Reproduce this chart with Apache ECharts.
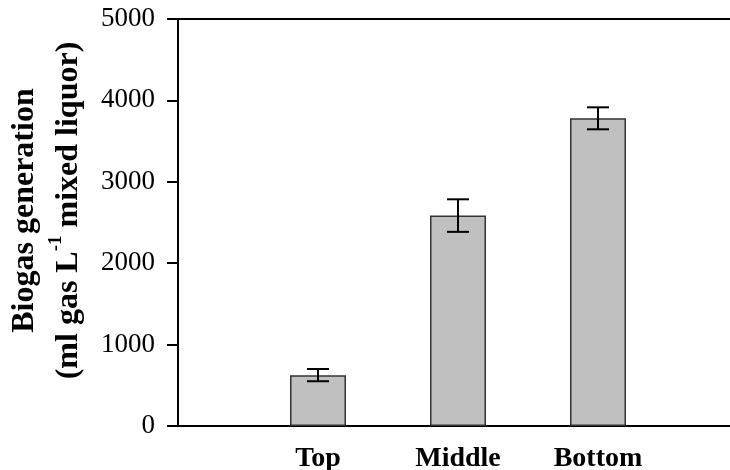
<!DOCTYPE html>
<html>
<head>
<meta charset="utf-8">
<script src="https://cdn.jsdelivr.net/npm/echarts@6/dist/echarts.min.js"></script>
<style>
  html, body { margin: 0; padding: 0; background: #fff; }
  #chart { width: 730px; height: 470px; }
</style>
</head>
<body>
<div id="chart"></div>
<script>
// biogas generation per sludge layer (mean and +/- error)
const categories = ['Top', 'Middle', 'Bottom'];
const biogas = [625, 2585, 3780];
const biogasErr = [75, 200, 135];
const yTicks = [0, 1000, 2000, 3000, 4000, 5000];

// one empty slot on each side so the bars sit on ticks 1..3
const axisData = [''].concat(categories, ['']);
const barData = ['-'].concat(biogas, ['-']);
const errData = categories.map((c, i) => [i + 1, biogas[i] - biogasErr[i], biogas[i] + biogasErr[i]]);

const serif = '"Liberation Serif", "Times New Roman", serif';
let myChart = echarts.init(document.getElementById('chart'));

let option = {
  animation: false,
  // plot runs a little past the right edge, as in the cropped original
  grid: { left: 178, right: -8, top: 19, bottom: 44, outerBoundsMode: 'none', containLabel: false },
  xAxis: [
    {
      type: 'category',
      data: axisData,
      boundaryGap: false,
      axisLine: { lineStyle: { color: '#000', width: 2 } },
      axisTick: { show: false },
      axisLabel: {
        interval: 0, margin: 19,
        fontFamily: serif, fontSize: 28, fontWeight: 'bold', color: '#000'
      }
    },
    {
      type: 'category',
      data: axisData,
      boundaryGap: false,
      position: 'top',
      axisLine: { lineStyle: { color: '#000', width: 2 } },
      axisTick: { show: false },
      axisLabel: { show: false }
    }
  ],
  yAxis: {
    type: 'value',
    min: yTicks[0],
    max: yTicks[yTicks.length - 1],
    interval: 1000,
    axisLine: { show: true, lineStyle: { color: '#000', width: 2 } },
    axisTick: { show: true, length: 11, lineStyle: { color: '#000', width: 2 } },
    splitLine: { show: false },
    axisLabel: {
      margin: 23, fontFamily: serif, fontSize: 27, color: '#000',
      formatter: v => String(v)
    },
    name: '{t|Biogas generation}\n{t|(ml gas L}{s|-1}{t| mixed liquor)}',
    nameLocation: 'middle',
    nameRotate: 90,
    nameGap: 87,
    nameTextStyle: {
      fontFamily: serif, fontWeight: 'bold', color: '#000',
      padding: [0, 0, 0, 24],
      rich: {
        t: { fontFamily: serif, fontSize: 32, fontWeight: 'bold', color: '#000', lineHeight: 44 },
        s: { fontFamily: serif, fontSize: 19, fontWeight: 'bold', color: '#000', verticalAlign: 'top', lineHeight: 44 }
      }
    }
  },
  series: [
    {
      type: 'bar',
      data: barData,
      barWidth: 56,
      itemStyle: { color: '#c0c0c0', borderColor: '#333', borderWidth: 1.5 }
    },
    {
      type: 'custom',
      data: errData,
      z: 5,
      renderItem: function (params, api) {
        let x = api.value(0);
        let lo = api.coord([x, api.value(1)]);
        let hi = api.coord([x, api.value(2)]);
        let half = 11;
        let st = { stroke: '#000', lineWidth: 2 };
        return {
          type: 'group',
          children: [
            { type: 'line', shape: { x1: lo[0], y1: lo[1], x2: hi[0], y2: hi[1] }, style: st },
            { type: 'line', shape: { x1: lo[0] - half, y1: lo[1], x2: lo[0] + half, y2: lo[1] }, style: st },
            { type: 'line', shape: { x1: hi[0] - half, y1: hi[1], x2: hi[0] + half, y2: hi[1] }, style: st }
          ]
        };
      }
    }
  ]
};

myChart.setOption(option);
</script>
</body>
</html>
